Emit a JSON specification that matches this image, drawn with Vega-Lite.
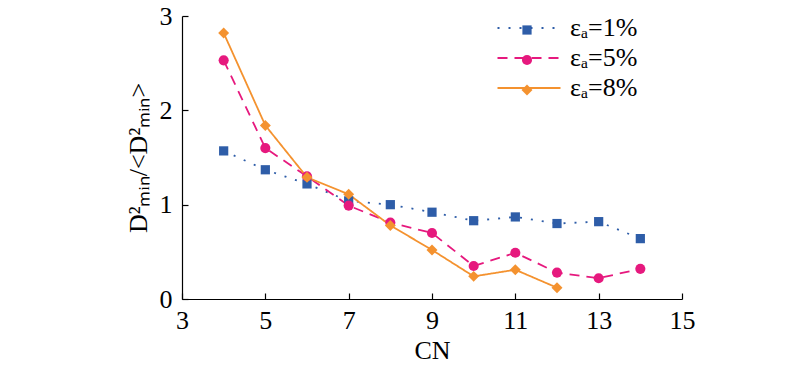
{
  "$schema": "https://vega.github.io/schema/vega-lite/v6.json",
  "width": 500,
  "height": 283,
  "autosize": "none",
  "padding": {"left": 182, "top": 16, "right": 118, "bottom": 71},
  "background": "white",
  "config": {
    "font": "Liberation Serif",
    "view": {"stroke": null},
    "axis": {
      "domainColor": "#000000",
      "domainWidth": 1.2,
      "tickColor": "#000000",
      "tickWidth": 1.2,
      "tickSize": -6,
      "grid": false,
      "labelFont": "Liberation Serif",
      "labelFontSize": 26,
      "labelColor": "#000000",
      "titleFont": "Liberation Serif",
      "titleFontSize": 26,
      "titleFontWeight": "normal",
      "titleColor": "#000000"
    },
    "legend": {
      "labelFont": "Liberation Serif",
      "labelFontSize": 26,
      "labelColor": "#000000"
    }
  },
  "data": {
    "values": [
      {"series": "εₐ=1%", "CN": 4, "v": 1.57},
      {"series": "εₐ=1%", "CN": 5, "v": 1.37},
      {"series": "εₐ=1%", "CN": 6, "v": 1.22},
      {"series": "εₐ=1%", "CN": 7, "v": 1.04},
      {"series": "εₐ=1%", "CN": 8, "v": 1.00},
      {"series": "εₐ=1%", "CN": 9, "v": 0.92},
      {"series": "εₐ=1%", "CN": 10, "v": 0.83},
      {"series": "εₐ=1%", "CN": 11, "v": 0.87},
      {"series": "εₐ=1%", "CN": 12, "v": 0.80},
      {"series": "εₐ=1%", "CN": 13, "v": 0.82},
      {"series": "εₐ=1%", "CN": 14, "v": 0.64},
      {"series": "εₐ=5%", "CN": 4, "v": 2.53},
      {"series": "εₐ=5%", "CN": 5, "v": 1.60},
      {"series": "εₐ=5%", "CN": 6, "v": 1.30},
      {"series": "εₐ=5%", "CN": 7, "v": 0.99},
      {"series": "εₐ=5%", "CN": 8, "v": 0.81},
      {"series": "εₐ=5%", "CN": 9, "v": 0.70},
      {"series": "εₐ=5%", "CN": 10, "v": 0.35},
      {"series": "εₐ=5%", "CN": 11, "v": 0.49},
      {"series": "εₐ=5%", "CN": 12, "v": 0.28},
      {"series": "εₐ=5%", "CN": 13, "v": 0.22},
      {"series": "εₐ=5%", "CN": 14, "v": 0.32},
      {"series": "εₐ=8%", "CN": 4, "v": 2.82},
      {"series": "εₐ=8%", "CN": 5, "v": 1.84},
      {"series": "εₐ=8%", "CN": 6, "v": 1.29},
      {"series": "εₐ=8%", "CN": 7, "v": 1.11},
      {"series": "εₐ=8%", "CN": 8, "v": 0.78},
      {"series": "εₐ=8%", "CN": 9, "v": 0.52},
      {"series": "εₐ=8%", "CN": 10, "v": 0.24},
      {"series": "εₐ=8%", "CN": 11, "v": 0.31},
      {"series": "εₐ=8%", "CN": 12, "v": 0.12}
    ]
  },
  "encoding": {
    "x": {
      "field": "CN", "type": "quantitative",
      "scale": {"domain": [3, 15], "nice": false},
      "axis": {"values": [3, 5, 7, 9, 11, 13, 15], "title": "CN", "labelPadding": 14, "titlePadding": 4, "labelFlush": false}
    },
    "y": {
      "field": "v", "type": "quantitative",
      "scale": {"domain": [0, 3], "nice": false},
      "axis": {"values": [0, 1, 2, 3], "title": "D²ₘᵢₙ/<D²ₘᵢₙ>", "labelPadding": 16, "titlePadding": 8, "labelFlush": false}
    }
  },
  "layer": [
    {
      "mark": {"type": "line", "strokeWidth": 1.8},
      "encoding": {
        "color": {
          "field": "series", "type": "nominal",
          "scale": {"domain": ["εₐ=1%", "εₐ=5%", "εₐ=8%"], "range": ["#2E5DA8", "#E6197E", "#F4922F"]},
          "legend": {"orient": "none", "legendX": 334, "legendY": -1, "title": null, "symbolType": "M-3,0H3", "symbolSize": 441, "symbolStrokeWidth": 1.8, "symbolFillColor": "transparent", "rowPadding": 4, "labelOffset": 28}
        },
        "strokeDash": {
          "field": "series", "type": "nominal",
          "scale": {"domain": ["εₐ=1%", "εₐ=5%", "εₐ=8%"], "range": [[2, 9], [10, 7], [1, 0]]}
        }
      }
    },
    {
      "mark": {"type": "point", "filled": true, "opacity": 1},
      "encoding": {
        "color": {
          "field": "series", "type": "nominal",
          "scale": {"domain": ["εₐ=1%", "εₐ=5%", "εₐ=8%"], "range": ["#2E5DA8", "#E6197E", "#F4922F"]},
          "legend": {"orient": "none", "legendX": 332, "legendY": 1, "title": null, "symbolSize": 120, "labelExpr": "''", "rowPadding": 4}
        },
        "shape": {
          "field": "series", "type": "nominal",
          "scale": {"domain": ["εₐ=1%", "εₐ=5%", "εₐ=8%"], "range": ["square", "circle", "diamond"]}
        },
        "size": {
          "field": "series", "type": "nominal",
          "scale": {"domain": ["εₐ=1%", "εₐ=5%", "εₐ=8%"], "range": [85, 120, 190]},
          "legend": null
        }
      }
    }
  ],
  "resolve": {"scale": {"color": "independent", "strokeDash": "independent", "shape": "independent", "size": "independent"}}
}
